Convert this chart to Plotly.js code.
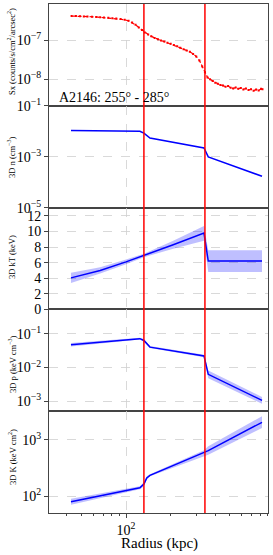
<!DOCTYPE html>
<html><head><meta charset="utf-8">
<script src="https://cdn.plot.ly/plotly-3.0.1.min.js"></script>
<style>html,body{margin:0;padding:0;background:#fff}#chart{width:273px;height:555px}</style>
</head><body><div id="chart"></div>
<script>
// ---- data ----
const rSx = [43,46,49,52,55,59,63,67,71,76,81,86,92,98,104,110,116,122,128,134,141,148,156,164,172,181,190,200,210,221,232,244,256,269,283,297,312,326,340,354,368,383,399,415,432,450,468,487,507,527,548,570,593,617,642,668,695,723,752,782,812,830];
const sx = [4.1e-7,4.1e-7,4.05e-7,4.0e-7,3.98e-7,3.95e-7,3.9e-7,3.82e-7,3.78e-7,3.7e-7,3.62e-7,3.55e-7,3.45e-7,3.3e-7,3.1e-7,2.8e-7,2.45e-7,2.1e-7,1.8e-7,1.55e-7,1.38e-7,1.24e-7,1.12e-7,1.04e-7,9.7e-8,9.1e-8,8.5e-8,8.0e-8,7.4e-8,6.9e-8,6.3e-8,5.8e-8,5.4e-8,5.0e-8,4.4e-8,3.8e-8,3.0e-8,2.1e-8,1.5e-8,1.1e-8,9.8e-9,8.9e-9,8.0e-9,7.6e-9,7.0e-9,6.8e-9,6.3e-9,6.6e-9,6.0e-9,5.7e-9,6.1e-9,5.6e-9,5.9e-9,5.4e-9,5.7e-9,5.2e-9,5.5e-9,5.0e-9,5.4e-9,5.1e-9,5.6e-9,5.5e-9];

const rN = [42.6,124,132,145,335,358,824];
const nVal = [0.0106,0.0100,0.0084,0.0054,0.0022,0.00098,0.00017];

const rT = [42.6,67,100,132,208,335,358,824];
const tVal = [4.05,5.0,6.1,6.9,8.3,9.8,6.2,6.2];
const tLo = [3.4,4.6,5.8,6.7,7.8,8.8,4.8,4.8];
const tHi = [4.7,5.4,6.4,7.15,8.8,10.7,7.6,7.6];

const rP = [42.6,124,132,145,335,358,824];
const pVal = [0.047,0.071,0.063,0.040,0.022,0.0063,0.00107];
const pLo = [0.042,0.067,0.058,0.038,0.020,0.0048,0.00085];
const pHi = [0.053,0.076,0.069,0.043,0.024,0.0082,0.00135];

const rK = [42.6,124,132,138,145,335,358,824];
const kVal = [79,140,163,210,233,585,640,2030];
const kLo = [70,132,150,195,225,520,540,1600];
const kHi = [90,150,178,225,243,650,760,2600];

const jumps = [132,340];
const yTitles = ['Sx (counts/s/cm<sup>2</sup>/arcsec<sup>2</sup>)','3D n (cm<sup>−3</sup>)','3D kT (keV)','3D p (keV cm<sup>−3</sup>)','3D K (keV cm<sup>2</sup>)'];
const label = 'A2146: 255° - 285°';

// ---- styles ----
const FONT = 'Liberation Serif, Times New Roman, serif';
const BLUE = '#0000ff', BAND = 'rgba(0,0,255,0.25)';
const traces = [];
function band(r, lo, hi, ax){
  traces.push({x:r,y:lo,xaxis:'x'+ax,yaxis:'y'+ax,mode:'lines',line:{width:0,color:BAND},hoverinfo:'skip',showlegend:false});
  traces.push({x:r,y:hi,xaxis:'x'+ax,yaxis:'y'+ax,mode:'lines',line:{width:0,color:BAND},fill:'tonexty',fillcolor:BAND,hoverinfo:'skip',showlegend:false});
}
traces.push({x:rSx,y:sx,xaxis:'x',yaxis:'y',mode:'lines+markers',line:{color:'#ff0000',width:1.2,dash:'4px,2px'},marker:{color:'#ff0000',size:2,symbol:'square'},showlegend:false});
traces.push({x:rN,y:nVal,xaxis:'x2',yaxis:'y2',mode:'lines',line:{color:BLUE,width:1.5},showlegend:false});
band(rT,tLo,tHi,3);
traces.push({x:rT,y:tVal,xaxis:'x3',yaxis:'y3',mode:'lines',line:{color:BLUE,width:1.5},showlegend:false});
band(rP,pLo,pHi,4);
traces.push({x:rP,y:pVal,xaxis:'x4',yaxis:'y4',mode:'lines',line:{color:BLUE,width:1.5},showlegend:false});
band(rK,kLo,kHi,5);
traces.push({x:rK,y:kVal,xaxis:'x5',yaxis:'y5',mode:'lines',line:{color:BLUE,width:1.5},showlegend:false});

const xr = [Math.log10(30.3), Math.log10(904)];
const common = {showline:true,mirror:true,linecolor:'#444',linewidth:1,zeroline:false,
  gridcolor:'#d0d0d0',griddash:'dash',gridwidth:0.8,tickfont:{family:FONT,size:14,color:'#000'}};
const layout = {width:273,height:555,margin:{l:49,r:5,t:4,b:42},paper_bgcolor:'#fff',plot_bgcolor:'#fff',
  font:{family:FONT,color:'#000'},showlegend:false,annotations:[],shapes:[]};
const doms = [[0.8,1],[0.6,0.8],[0.4,0.6],[0.2,0.4],[0,0.2]];
const minorX = [40,50,60,70,80,90,200,300,400,500,600,700,800,900];
for(let i=1;i<=5;i++){
  const xa = Object.assign({},common,{type:'log',range:xr,anchor:'y'+i,tickmode:'array',tickvals:[100],
    ticktext:['10<sup>2</sup>'],showticklabels:i===5,ticks:i===5?'outside':'',ticklen:4,tickcolor:'#444'});
  if(i===5){ xa.minor = {tickmode:'array',tickvals:minorX,ticks:'outside',ticklen:2,tickcolor:'#444',showgrid:false}; }
  if(i>1) xa.matches='x';
  layout['xaxis'+(i===1?'':i)] = xa;
}
layout.yaxis  = Object.assign({},common,{type:'log',domain:doms[0],anchor:'x',range:[-8.687,-6.077],tickmode:'array',tickvals:[1e-8,1e-7],ticktext:['10<sup>−8</sup>','10<sup>−7</sup>'],ticks:'outside',ticklen:4,tickcolor:'#444'});
layout.yaxis2 = Object.assign({},common,{type:'log',domain:doms[1],anchor:'x2',range:[-5,-1],tickmode:'array',tickvals:[1e-5,1e-3,1e-1],ticktext:['10<sup>−5</sup>','10<sup>−3</sup>','10<sup>−1</sup>'],ticks:'outside',ticklen:4,tickcolor:'#444'});
layout.yaxis3 = Object.assign({},common,{type:'linear',domain:doms[2],anchor:'x3',range:[0,13.07],tickmode:'array',tickvals:[0,2,4,6,8,10,12],ticks:'outside',ticklen:4,tickcolor:'#444'});
layout.yaxis4 = Object.assign({},common,{type:'log',domain:doms[3],anchor:'x4',range:[-3.29,-0.284],tickmode:'array',tickvals:[1e-3,1e-2,1e-1],ticktext:['10<sup>−3</sup>','10<sup>−2</sup>','10<sup>−1</sup>'],ticks:'outside',ticklen:4,tickcolor:'#444'});
layout.yaxis5 = Object.assign({},common,{type:'log',domain:doms[4],anchor:'x5',range:[1.70,3.504],tickmode:'array',tickvals:[100,1000],ticktext:['10<sup>2</sup>','10<sup>3</sup>'],ticks:'outside',ticklen:4,tickcolor:'#444'});

const titleY = [52,158,257,364,457];
yTitles.forEach((t,i)=>{
  layout.annotations.push({text:t,xref:'paper',yref:'paper',x:(12-49)/219,y:(513-titleY[i])/509,
    xanchor:'center',yanchor:'middle',textangle:-90,showarrow:false,font:{family:FONT,size:8.5,color:'#000'}});
});
layout.annotations.push({text:label,xref:'paper',yref:'paper',x:(57-49)/219,y:(513-97)/509,xanchor:'left',yanchor:'middle',showarrow:false,font:{family:FONT,size:14,color:'#000'}});
layout.annotations.push({text:'Radius (kpc)',xref:'paper',yref:'paper',x:(159-49)/219,y:(513-543)/509,xanchor:'center',yanchor:'middle',showarrow:false,font:{family:FONT,size:15,color:'#000'}});
jumps.forEach(j=>{
  layout.shapes.push({type:'line',xref:'x',yref:'paper',x0:j,x1:j,y0:0,y1:1,line:{color:'#ff0000',width:1.5},layer:'above'});
});
Plotly.newPlot('chart',traces,layout,{staticPlot:true,displayModeBar:false});
</script></body></html>
